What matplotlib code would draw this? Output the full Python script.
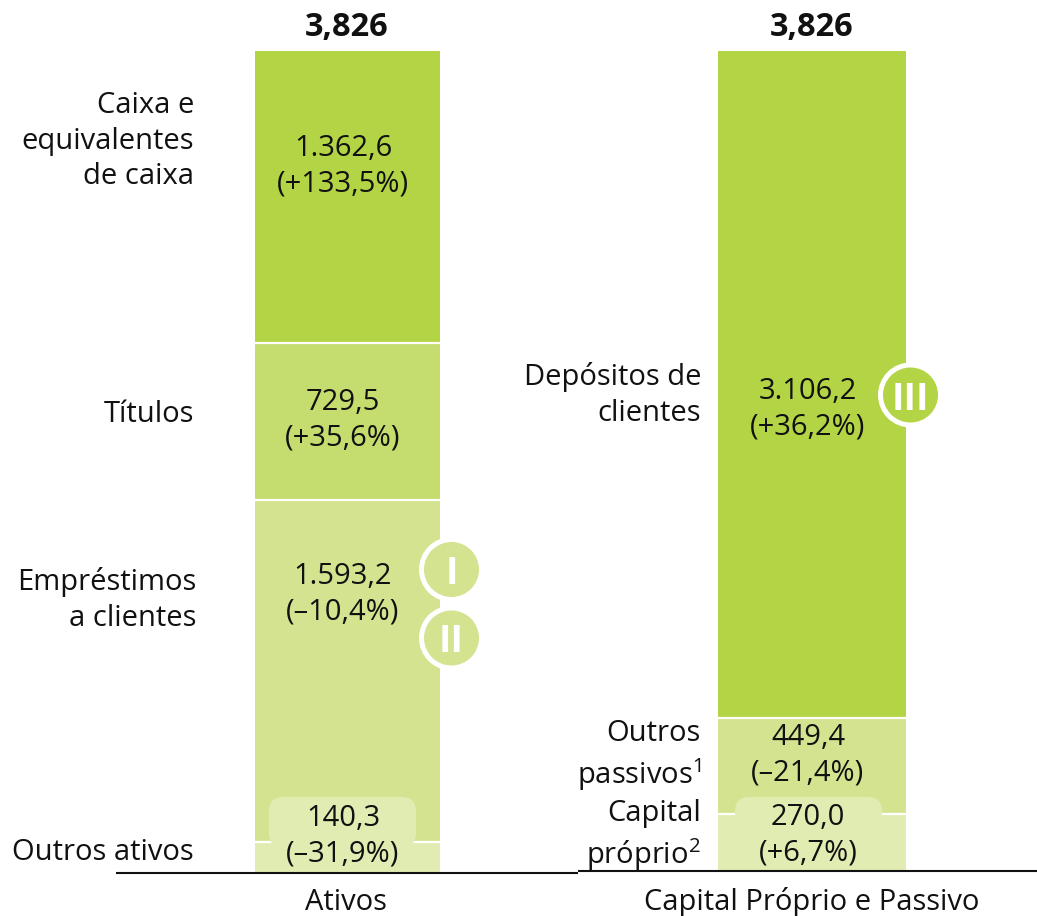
import matplotlib
matplotlib.use('Agg')
import matplotlib.pyplot as plt
from matplotlib.patches import Circle, FancyBboxPatch

plt.rcParams['font.family'] = ['Open Sans', 'DejaVu Sans']
plt.rcParams['mathtext.default'] = 'regular'

# data
total_labels = ['3,826', '3,826']
axis_labels = ['Ativos', 'Capital Próprio e Passivo']
ativos_values = [140.3, 1593.2, 729.5, 1362.6]
ativos_text = ['140,3\n(–31,9%)', '1.593,2\n(–10,4%)', '729,5\n(+35,6%)', '1.362,6\n(+133,5%)']
ativos_names = ['Outros ativos', 'Empréstimos\na clientes', 'Títulos', 'Caixa e\nequivalentes\nde caixa']
passivo_values = [270.0, 449.4, 3106.2]
passivo_text = ['270,0\n(+6,7%)', '449,4\n(–21,4%)', '3.106,2\n(+36,2%)']
passivo_names = ['Capital\npróprio$^{2}$', 'Outros\npassivos$^{1}$', 'Depósitos de\nclientes']

ativos_colors = ['#e1ecb2', '#d3e38f', '#c5dc6e', '#b3d444']
passivo_colors = ['#e1ecb2', '#d3e38f', '#b3d444']
BAR_TOTAL = 3826

W, H = 1037, 916
fig = plt.figure(figsize=(W / 100, H / 100), dpi=100)

# value axes, zero sits on the baseline and the total at the top of the bars
scale = (872 - 51) / BAR_TOTAL
ax = fig.add_axes([0, 0, 1, 1])
ax.set_xlim(0, W)
ax.set_ylim(-(H - 872) / scale, BAR_TOTAL + 51 / scale)
ax.axis('off')

def stack(x0, x1, values, colors):
    bottom = 0
    for v, c in zip(values, colors):
        ax.bar((x0 + x1) / 2, v, width=x1 - x0, bottom=bottom, color=c, linewidth=0, zorder=1)
        bottom += v
        if bottom < BAR_TOTAL - 1:
            ax.plot([x0, x1], [bottom, bottom], color='white', lw=1.6, zorder=2, solid_capstyle='butt')

stack(255, 440, ativos_values, ativos_colors)
stack(718, 906, passivo_values, passivo_colors)

# overlay in pixels for labels and badges
px = fig.add_axes([0, 0, 1, 1])
px.set_xlim(0, W)
px.set_ylim(H, 0)
px.axis('off')
px.patch.set_alpha(0)

def tab(x0, x1, color):
    px.add_patch(FancyBboxPatch((x0, 797), x1 - x0, 50,
                                boxstyle='round,pad=0,rounding_size=14',
                                fc=color, ec='none', zorder=3))

tab(269, 416, ativos_colors[0])
tab(735, 882, passivo_colors[0])

def badge(x, y, r, ring, color, label, fs):
    px.add_patch(Circle((x, y), ring, fc='white', ec='none', zorder=4))
    px.add_patch(Circle((x, y), r, fc=color, ec='none', zorder=5))
    px.text(x, y, label, color='white', fontsize=fs, fontweight='bold', ha='center',
            va='center_baseline', zorder=6)

badge(451.5, 569.5, 27.5, 32.5, ativos_colors[1], 'I', 27)
badge(451.5, 638, 27.5, 32.5, ativos_colors[1], 'II', 27)
badge(910.5, 395, 27.5, 32.5, passivo_colors[2], 'III', 27)

# baseline
px.plot([116, 578], [872.5, 872.5], color='#111111', lw=1.5, zorder=7, solid_capstyle='butt')
px.plot([578, 1037], [871, 871], color='#111111', lw=1.5, zorder=7, solid_capstyle='butt')

FS = 21
LS = 1.3
ink = '#111111'

def put(x, y, s, ha='center', fw='normal', fs=FS):
    px.text(x, y, s, fontsize=fs, color=ink, ha=ha, va='center', fontweight=fw,
            linespacing=LS, zorder=8, multialignment=ha)

for x, s in zip([347, 812], total_labels):
    put(x, 28, s, fw='bold', fs=23.5)
for x, s in zip([346, 812], axis_labels):
    put(x, 902, s)

for y, s in zip([836, 594, 420, 166], ativos_text):
    put(343, y, s)
for y, s in zip([852, 600, 415, 141], ativos_names):
    put(194 if 'Emp' not in s else 196, y, s, ha='right')
for y, s in zip([835, 755, 409], passivo_text):
    put(808, y, s)
for y, s in zip([836, 756, 395], passivo_names):
    put(701, y, s, ha='right')

fig.savefig('out.png', dpi=100)
